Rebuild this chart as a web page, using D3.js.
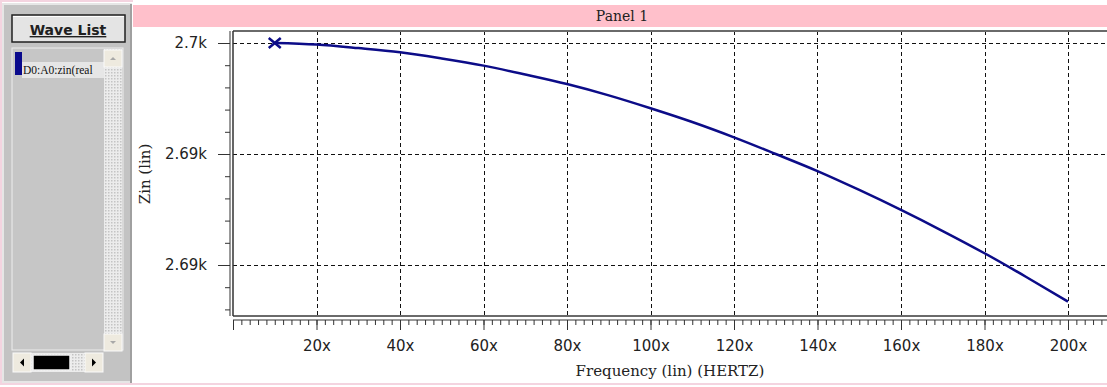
<!DOCTYPE html>
<html lang="en">
  <head>
    <meta charset="utf-8">
    <title>Panel 1</title>
    <script src="https://d3js.org/d3.v7.min.js"></script>
    <style>
      body { margin: 0; background: #fff; }
      svg { display: block; }
    </style>
  </head>
  <body>
    <script>
      // data (frequency vs Zin real part)
      var freq = [10, 20, 30, 40, 50, 60, 70, 80, 90, 100, 110, 120, 130, 140, 150, 160, 170, 180, 190, 200];
      var zin  = [2700.0, 2699.93, 2699.77, 2699.58, 2699.30, 2698.98, 2698.58, 2698.15, 2697.64, 2697.06,
                  2696.44, 2695.75, 2695.0, 2694.23, 2693.38, 2692.48, 2691.53, 2690.53, 2689.46, 2688.35];
      var xTickVals = [20, 40, 60, 80, 100, 120, 140, 160, 180, 200];
      var xTickLabels = ["20x", "40x", "60x", "80x", "100x", "120x", "140x", "160x", "180x", "200x"];
      var yTickVals = [2700, 2695, 2690];
      var yTickLabels = ["2.7k", "2.69k", "2.69k"];

      var W = 1107, H = 387;
      var svg = d3.select("body").append("svg")
                  .attr("width", W)
                  .attr("height", H);

      // outer light pink frame (left, bottom, top over the wave list)
      svg.append("rect").attr("x", 0).attr("y", 0).attr("width", W).attr("height", H).attr("fill", "#fff");
      svg.append("path").attr("d", "M133,1H1V384H" + W)
         .attr("fill", "none").attr("stroke", "#f4d4e0").attr("stroke-width", 2);

      // ---- left "Wave List" panel ----
      var lp = svg.append("g");
      lp.append("rect").attr("x", 3).attr("y", 4).attr("width", 128).attr("height", 378)
        .attr("fill", "#c3c3c3").attr("stroke", "#e6e6e6").attr("stroke-width", 2);
      lp.append("line").attr("x1", 131).attr("x2", 131).attr("y1", 4).attr("y2", 383)
        .attr("stroke", "#a0a0a0").attr("stroke-width", 2);

      // header button
      lp.append("rect").attr("x", 12).attr("y", 15).attr("width", 113).attr("height", 27)
        .attr("fill", "#e4e4e4").attr("stroke", "#202020").attr("stroke-width", 1.5);
      lp.append("line").attr("x1", 13).attr("x2", 124).attr("y1", 16.5).attr("y2", 16.5).attr("stroke", "#fff");
      lp.append("text").attr("x", 68).attr("y", 35).attr("text-anchor", "middle")
        .style("font-family", "DejaVu Sans").style("font-weight", "bold").style("font-size", "14px")
        .style("text-decoration", "underline").attr("fill", "#202020").text("Wave List");

      // list box
      lp.append("rect").attr("x", 12).attr("y", 48).attr("width", 111).attr("height", 302)
        .attr("fill", "#c6c6c6").attr("stroke", "#ededed").attr("stroke-width", 1);
      lp.append("rect").attr("x", 22).attr("y", 62).attr("width", 82).attr("height", 16).attr("fill", "#e6e6e6");
      lp.append("rect").attr("x", 15).attr("y", 52).attr("width", 7).attr("height", 23).attr("fill", "#0a0a8c");
      lp.append("text").attr("x", 23).attr("y", 74)
        .style("font-family", "Liberation Serif").style("font-size", "11.5px").attr("fill", "#111")
        .text("D0:A0:zin(real");

      // vertical scrollbar
      var track = lp.append("pattern").attr("id", "dots").attr("width", 3).attr("height", 3)
        .attr("patternUnits", "userSpaceOnUse");
      track.append("rect").attr("width", 3).attr("height", 3).attr("fill", "#ececec");
      track.append("rect").attr("width", 1.5).attr("height", 1.5).attr("fill", "#c4c4c4");
      lp.append("rect").attr("x", 104).attr("y", 49).attr("width", 18).attr("height", 300).attr("fill", "url(#dots)");
      [[104, 50], [104, 334]].forEach(function(p, i) {
        lp.append("rect").attr("x", p[0]).attr("y", p[1]).attr("width", 18).attr("height", 17)
          .attr("fill", "#eeeadf").attr("stroke", "#fafafa");
        var cx = p[0] + 9, cy = p[1] + 8.5;
        var tri = i == 0 ? [[cx - 3, cy + 1.5], [cx + 3, cy + 1.5], [cx, cy - 1.5]]
                         : [[cx - 3, cy - 1.5], [cx + 3, cy - 1.5], [cx, cy + 1.5]];
        lp.append("path").attr("d", d3.line()(tri) + "Z").attr("fill", "#a8a8a8");
      });

      // horizontal scrollbar
      lp.append("rect").attr("x", 13).attr("y", 353).attr("width", 89).attr("height", 19).attr("fill", "url(#dots)");
      [[13, 353, -1], [85, 353, 1]].forEach(function(p) {
        lp.append("rect").attr("x", p[0]).attr("y", p[1]).attr("width", 18).attr("height", 19)
          .attr("fill", "#eeeadf").attr("stroke", "#fafafa");
        var cx = p[0] + 9, cy = p[1] + 9.5;
        var tri = [[cx + 2 * p[2], cy], [cx - 2 * p[2], cy - 4], [cx - 2 * p[2], cy + 4]];
        lp.append("path").attr("d", d3.line()(tri) + "Z").attr("fill", "#000");
      });
      lp.append("rect").attr("x", 33).attr("y", 355).attr("width", 37).attr("height", 15)
        .attr("fill", "#000").attr("stroke", "#f2f2f2").attr("stroke-width", 1.5);

      // ---- chart panel ----
      svg.append("rect").attr("x", 133).attr("y", 5).attr("width", W - 133).attr("height", 22).attr("fill", "#ffc0cb");
      svg.append("text").attr("x", 622).attr("y", 21).attr("text-anchor", "middle")
         .style("font-family", "DejaVu Serif").style("font-size", "14px").attr("fill", "#222").text("Panel 1");

      var x = d3.scaleLinear().domain([0, 200]).range([233, 1068]);
      var y = d3.scaleLinear().domain([2690, 2700]).range([265, 43]);
      var plotTop = 31, plotBottom = 316, plotLeft = 233, plotRight = W;
      var xMax = x.invert(plotRight), yMin = y.invert(plotBottom);

      // plot area
      var plot = svg.append("g");
      plot.append("rect").attr("x", plotLeft).attr("y", plotTop)
          .attr("width", plotRight - plotLeft).attr("height", plotBottom - plotTop).attr("fill", "#fff");

      // grid
      plot.selectAll("line.vg").data(xTickVals).enter().append("line").attr("class", "vg")
          .attr("x1", function(d) { return Math.round(x(d)) + 0.5; })
          .attr("x2", function(d) { return Math.round(x(d)) + 0.5; })
          .attr("y1", plotTop).attr("y2", plotBottom)
          .attr("stroke", "#111").attr("stroke-dasharray", "4,3");
      plot.selectAll("line.hg").data(yTickVals).enter().append("line").attr("class", "hg")
          .attr("x1", plotLeft).attr("x2", plotRight)
          .attr("y1", function(d) { return Math.round(y(d)) + 0.5; })
          .attr("y2", function(d) { return Math.round(y(d)) + 0.5; })
          .attr("stroke", "#111").attr("stroke-dasharray", "4,3");

      // frame
      plot.append("line").attr("x1", plotLeft).attr("x2", plotRight).attr("y1", plotTop).attr("y2", plotTop)
          .attr("stroke", "#6a6a6a").attr("stroke-width", 2);
      plot.append("line").attr("x1", plotLeft).attr("x2", plotRight).attr("y1", plotBottom).attr("y2", plotBottom)
          .attr("stroke", "#6a6a6a").attr("stroke-width", 2);
      plot.append("line").attr("x1", plotLeft).attr("x2", plotLeft).attr("y1", plotTop).attr("y2", plotBottom)
          .attr("stroke", "#333").attr("stroke-width", 1.5);

      // y ruler
      var yAxis = d3.axisLeft(y)
          .tickValues(d3.range(Math.ceil(yMin), 2700.5, 1))
          .tickSize(5).tickFormat("");
      svg.append("g").attr("transform", "translate(230,0)").call(yAxis)
         .call(function(g) {
           g.select(".domain").attr("d", "M0," + plotTop + "V" + plotBottom).attr("stroke", "#333");
           g.selectAll(".tick line").attr("stroke", "#333");
         });
      var yMajor = d3.axisLeft(y).tickValues(yTickVals).tickSize(12)
          .tickFormat(function(d, i) { return yTickLabels[i]; }).tickPadding(11);
      svg.append("g").attr("transform", "translate(230,0)").call(yMajor)
         .call(function(g) {
           g.select(".domain").remove();
           g.selectAll(".tick line").attr("stroke", "#333");
           g.selectAll(".tick text").style("font-family", "DejaVu Sans").style("font-size", "15px").attr("fill", "#222");
         });

      // x ruler
      var xAxis = d3.axisBottom(x)
          .tickValues(d3.range(0, xMax, 2))
          .tickSize(5).tickFormat("");
      svg.append("g").attr("transform", "translate(0,320)").call(xAxis)
         .call(function(g) {
           g.select(".domain").attr("d", "M" + plotLeft + ",0H" + plotRight).attr("stroke", "#333");
           g.selectAll(".tick line").attr("stroke", "#333");
         });
      var xMajor = d3.axisBottom(x).tickValues([0].concat(xTickVals)).tickSize(10)
          .tickFormat(function(d, i) { return i == 0 ? "" : xTickLabels[i - 1]; }).tickPadding(10);
      svg.append("g").attr("transform", "translate(0,320)").call(xMajor)
         .call(function(g) {
           g.select(".domain").remove();
           g.selectAll(".tick line").attr("stroke", "#333");
           g.selectAll(".tick text").style("font-family", "DejaVu Sans").style("font-size", "15px").attr("fill", "#222");
         });

      // axis titles
      svg.append("text").attr("x", 670).attr("y", 376).attr("text-anchor", "middle")
         .style("font-family", "DejaVu Serif").style("font-size", "15px").attr("fill", "#222")
         .text("Frequency (lin) (HERTZ)");
      svg.append("text").attr("transform", "translate(150,174) rotate(-90)").attr("text-anchor", "middle")
         .style("font-family", "DejaVu Serif").style("font-size", "15px").attr("fill", "#222")
         .text("Zin (lin)");

      // curve
      var pts = freq.map(function(f, i) { return [f, zin[i]]; });
      svg.append("path").datum(pts)
         .attr("d", d3.line().x(function(d) { return x(d[0]); }).y(function(d) { return y(d[1]); }).curve(d3.curveMonotoneX))
         .attr("fill", "none").attr("stroke", "#0c0c88").attr("stroke-width", 2.5);

      // start marker
      var mx = x(freq[0]), my = y(zin[0]);
      svg.append("path")
         .attr("d", "M" + (mx - 6) + "," + (my - 5) + "L" + (mx + 6) + "," + (my + 5) + "M" + (mx - 6) + "," + (my + 5) + "L" + (mx + 6) + "," + (my - 5))
         .attr("stroke", "#0c0c88").attr("stroke-width", 2.5);
    </script>
  </body>
</html>
